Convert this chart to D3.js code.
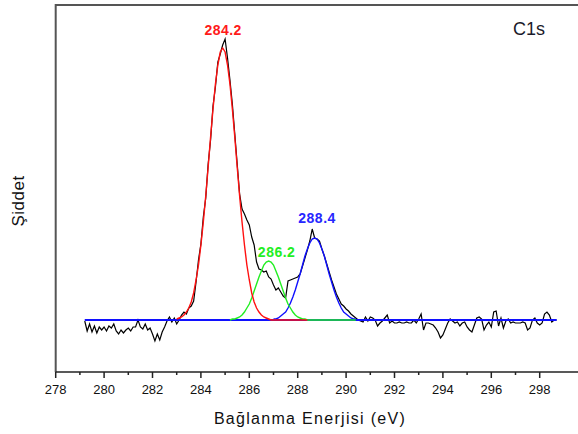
<!DOCTYPE html>
<html>
<head>
<meta charset="utf-8">
<script src="https://cdn.jsdelivr.net/npm/d3@7"></script>
<style>
    body { margin: 0; background: #fff; }
    svg { display: block; font-family: "Liberation Sans", Arial, sans-serif; }
</style>
</head>
<body>
<svg id="chart" width="578" height="434"></svg>
<script>
/* XPS C1s spectrum with fitted components */

// measured spectrum, 0.1 eV steps from 279.2 eV (a.u.)
const SPEC_START = 279.2;
const SPEC_STEP = 0.1;
const SPECTRUM = [
    // 279.2 - 283.7
    99, 89, 96, 88, 94, 87, 93, 90, 93, 89,
    94, 92, 96, 89, 86, 90, 87, 90, 92, 89,
    93, 93, 100, 93, 91, 96, 90, 92, 86, 79,
    86, 80, 88, 93, 99, 103, 98, 102, 96, 100,
    105, 108, 106, 112, 114, 119,
    // 283.8 - 290.6
    138, 160, 176, 203, 222, 256, 280, 314, 333, 358,
    366, 375, 381, 362, 340, 316, 286, 256, 226, 211,
    206, 200, 195, 183, 175, 158, 151, 150, 148, 149,
    143, 141, 135, 130, 132, 128, 124, 122, 139, 140,
    141, 142, 143, 146, 154, 162, 170, 179, 191, 182,
    181, 179, 171, 164, 156, 148, 140, 133, 126, 121,
    116, 114, 111, 109, 106, 104, 102, 100, 99,
    // 290.7 - 298.7
    98, 103, 99, 103, 102, 100, 94, 97, 99, 102,
    105, 97, 99, 97, 97, 98, 97, 97, 98, 97,
    97, 100, 97, 101, 106, 90, 97, 97, 96, 95,
    92, 88, 82, 85, 91, 97, 101, 99, 97, 98,
    94, 97, 98, 93, 90, 88, 95, 102, 103, 101,
    90, 95, 98, 93, 108, 109, 94, 102, 92, 99,
    101, 97, 98, 97, 97, 97, 98, 97, 90, 92,
    100, 102, 97, 95, 97, 106, 108, 105, 98, 100,
    100
];

const BASELINE = 100;
const BASE_RANGE = [279.2, 298.7];

// fitted components (same 0.1 eV step)
const RED_START = 283.0;
const RED_FIT = [
    101, 102, 103, 105, 108, 112, 118, 127, 140, 155,
    175, 198, 224, 253, 283, 311, 336, 355, 368, 372,
    368, 355, 336, 311, 283, 253, 224, 198, 175, 155,
    140, 127, 118, 112, 108, 105, 103, 102, 101, 100,
    100, 100, 100, 100, 100, 100, 100, 100, 100, 100,
    100, 100, 100, 100, 100
];

const GREEN_START = 285.2;
const GREEN_FIT = [
    100, 101, 101, 102, 103, 105, 108, 112, 116, 122,
    129, 136, 143, 149, 155, 158, 159, 158, 155, 149,
    143, 136, 129, 122, 116, 112, 108, 105, 103, 102,
    101, 101, 100, 100, 100, 100, 100, 100, 100, 100,
    100, 100, 100, 100, 100, 100, 100, 100, 100, 100,
    100, 100, 100
];

const BLUE_START = 287.0;
const BLUE_FIT = [
    101, 101, 102, 104, 106, 108, 112, 117, 123, 130,
    138, 146, 155, 164, 171, 177, 181, 182, 181, 177,
    171, 164, 155, 146, 138, 130, 123, 117, 112, 108,
    106, 104, 102, 101, 101
];

const PEAK_LABELS = [
    { text: '284.2', e: 284.92, v: 385, color: '#ff1a1a' },
    { text: '286.2', e: 287.13, v: 163, color: '#22ee22' },
    { text: '288.4', e: 288.8, v: 197, color: '#2626ff' }
];

const X_TICKS = d3.range(278, 299, 2);
const X_MINOR = d3.range(279, 299, 2);

const width = 578, height = 434;
const margin = { left: 56, top: 5, bottom: 62 };

const svg = d3.select('#chart');

const x = d3.scaleLinear().domain([278, 298]).range([55.7, 539.7]);
const y = d3.scaleLinear().domain([48, 415]).range([height - margin.bottom, margin.top]);

function toPoints(start, values) {
    return values.map((v, i) => [start + i * SPEC_STEP, v]);
}

const line = d3.line()
    .x(d => x(d[0]))
    .y(d => y(d[1]));

// frame: top and left
svg.append('line')
    .attr('x1', x(278)).attr('x2', width)
    .attr('y1', margin.top).attr('y2', margin.top)
    .attr('stroke', '#555').attr('stroke-width', 2);
svg.append('line')
    .attr('x1', x(278)).attr('x2', x(278))
    .attr('y1', margin.top - 1).attr('y2', y(48))
    .attr('stroke', '#555').attr('stroke-width', 2);

// bottom axis
const axisY = y(48);
svg.append('line')
    .attr('x1', x(278)).attr('x2', width)
    .attr('y1', axisY).attr('y2', axisY)
    .attr('stroke', '#222').attr('stroke-width', 1.5);

svg.append('g')
    .selectAll('line')
    .data(X_TICKS)
    .join('line')
    .attr('x1', d => x(d)).attr('x2', d => x(d))
    .attr('y1', axisY).attr('y2', axisY + 6)
    .attr('stroke', '#222').attr('stroke-width', 1.5);

svg.append('g')
    .selectAll('line')
    .data(X_MINOR)
    .join('line')
    .attr('x1', d => x(d)).attr('x2', d => x(d))
    .attr('y1', axisY).attr('y2', axisY + 3)
    .attr('stroke', '#222').attr('stroke-width', 1.5);

svg.append('g')
    .selectAll('text')
    .data(X_TICKS)
    .join('text')
    .attr('x', d => x(d))
    .attr('y', 394)
    .attr('text-anchor', 'middle')
    .attr('font-size', 13)
    .attr('fill', '#111')
    .text(d => d);

// axis titles
svg.append('text')
    .attr('x', 310).attr('y', 424)
    .attr('text-anchor', 'middle')
    .attr('font-size', 16)
    .attr('letter-spacing', 1.3)
    .attr('fill', '#111')
    .text('Bağlanma Enerjisi (eV)');

svg.append('text')
    .attr('transform', 'translate(24,201) rotate(-90)')
    .attr('text-anchor', 'middle')
    .attr('font-size', 17)
    .attr('letter-spacing', 0.5)
    .attr('fill', '#111')
    .text('Şiddet');

// measured spectrum
svg.append('path')
    .datum(toPoints(SPEC_START, SPECTRUM))
    .attr('d', line)
    .attr('fill', 'none')
    .attr('stroke', '#000')
    .attr('stroke-width', 1.2);

// baseline + fits
svg.append('path')
    .datum([[BASE_RANGE[0], BASELINE], [BASE_RANGE[1], BASELINE]])
    .attr('d', line)
    .attr('fill', 'none')
    .attr('stroke', '#1010ff')
    .attr('stroke-width', 2);

const fits = [
    { start: BLUE_START, values: BLUE_FIT, color: '#1010ff' },
    { start: GREEN_START, values: GREEN_FIT, color: '#22ee22' },
    { start: RED_START, values: RED_FIT, color: '#ff1010' }
];

fits.forEach(f => {
    svg.append('path')
        .datum(toPoints(f.start, f.values))
        .attr('d', line)
        .attr('fill', 'none')
        .attr('stroke', f.color)
        .attr('stroke-width', 1.4);
});

// peak labels
svg.append('g')
    .selectAll('text')
    .data(PEAK_LABELS)
    .join('text')
    .attr('x', d => x(d.e))
    .attr('y', d => y(d.v))
    .attr('text-anchor', 'middle')
    .attr('font-size', 14)
    .attr('font-weight', 'bold')
    .attr('letter-spacing', 0.5)
    .attr('fill', d => d.color)
    .text(d => d.text);

svg.append('text')
    .attr('x', 529).attr('y', 35)
    .attr('text-anchor', 'middle')
    .attr('font-size', 18)
    .attr('fill', '#1a1a2a')
    .text('C1s');
</script>
</body>
</html>
